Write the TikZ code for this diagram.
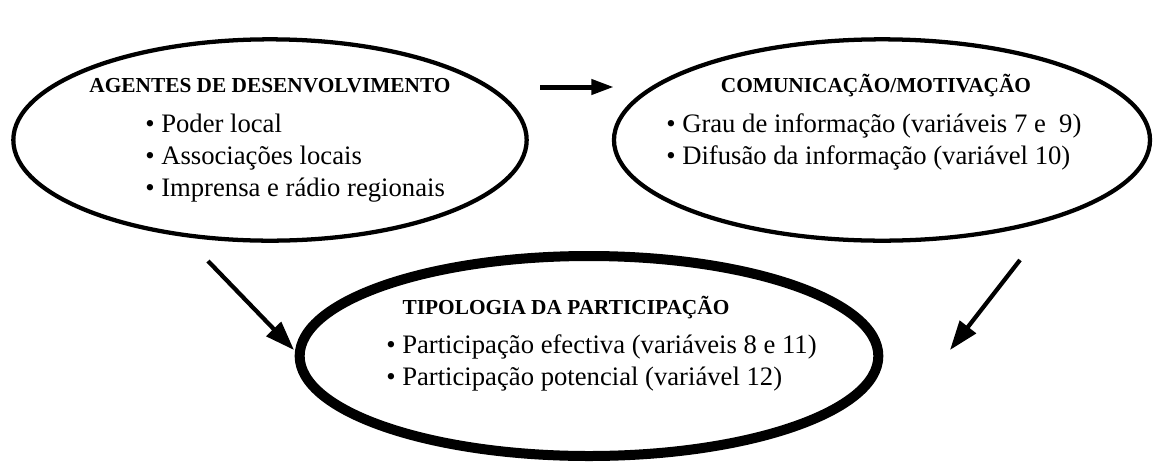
\documentclass[tikz,border=0pt]{standalone}
\usepackage{fontspec}
\setmainfont{Liberation Serif}
\usepackage{tikz}
\usetikzlibrary{arrows.meta,shapes}
\tikzstyle{blob}=[
	ellipse,
	draw=black,
	line width=3.2pt,
	inner sep=0pt
]
\tikzstyle{heavyblob}=[
	blob,
	line width=7.5pt
]
\tikzstyle{heading}=[
	font=\bfseries\fontsize{16}{19}\selectfont,
	anchor=base,
	inner sep=0pt
]
\tikzstyle{item}=[
	font=\fontsize{20}{24}\selectfont,
	anchor=base west,
	inner sep=0pt
]
\tikzstyle{link}=[
	-{Triangle[length=22pt,width=15pt]},
	line width=3.2pt,
	draw=black
]
\tikzstyle{flow}=[
	-{Triangle[length=17pt,width=11pt]},
	line width=3.75pt,
	draw=black
]

\begin{document}
\begin{tikzpicture}[x=0.75pt,y=-0.75pt]
\useasboundingbox (0,0) rectangle (1157,465);

% the three ellipses
\node[blob, minimum width=385pt, minimum height=151pt] (agentes) at (270,140) {};
\node[blob, minimum width=402pt, minimum height=151pt] (comunic) at (882,140) {};
\node[heavyblob, minimum width=434pt, minimum height=150pt] (tipologia) at (589,356) {};

% texts
\node[heading] (agentesT) at (270,92) {AGENTES DE DESENVOLVIMENTO};
\node[item] (agentes1) at (145,132) {\textbullet\ Poder local};
\node[item] (agentes2) at (145,164) {\textbullet\ Associações locais};
\node[item] (agentes3) at (145,196) {\textbullet\ Imprensa e rádio regionais};

\node[heading] (comunicT) at (876,92) {COMUNICAÇÃO/MOTIVAÇÃO};
\node[item] (comunic1) at (666,132) {\textbullet\ Grau de informação (variáveis 7 e \ 9)};
\node[item] (comunic2) at (666,164) {\textbullet\ Difusão da informação (variável 10)};

\node[heading] (tipologiaT) at (566,314) {TIPOLOGIA DA PARTICIPAÇÃO};
\node[item] (tipologia1) at (386,353) {\textbullet\ Participação efectiva (variáveis 8 e 11)};
\node[item] (tipologia2) at (386,385) {\textbullet\ Participação potencial (variável 12)};

% arrows
\coordinate (h1) at (540,87);
\coordinate (h2) at (614,87);
\coordinate (l1) at (208,261);
\coordinate (l2) at (294,350);
\coordinate (r1) at (1020,260);
\coordinate (r2) at (950,350);

\draw[flow] (h1) -- (h2);
\draw[link] (l1) -- (l2);
\draw[link] (r1) -- (r2);

\end{tikzpicture}
\end{document}
